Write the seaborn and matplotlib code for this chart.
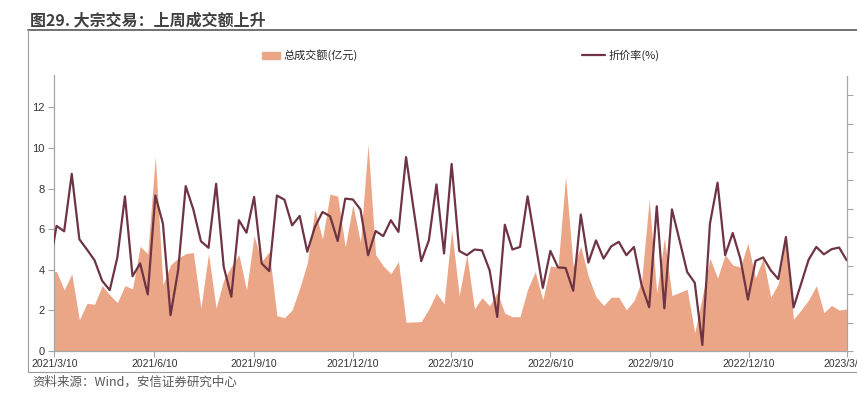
import pandas as pd
import matplotlib
matplotlib.use("Agg")
import matplotlib.pyplot as plt
from matplotlib.lines import Line2D
from matplotlib.patches import Patch
import seaborn as sns

# weekly data (Fridays); first point lies just left of the axis start and gets clipped
dates = pd.date_range("2021-03-05", periods=106, freq="7D")

# 总成交额(亿元), left axis
amount = [3.90, 3.91, 3.01, 3.80, 1.53, 2.35, 2.30, 3.22, 2.76, 2.38, 3.22, 3.06, 5.15, 4.79,
          9.59, 3.26, 4.24, 4.57, 4.79, 4.85, 2.11, 4.79, 2.11, 3.50, 4.16, 4.74, 3.01,
          5.67, 4.41, 4.90, 1.74, 1.64, 2.02, 3.09, 4.33, 6.96, 5.51, 7.73, 7.62, 5.12,
          7.20, 5.35, 10.16, 4.74, 4.19, 3.80, 4.41, 1.41, 1.43, 1.45, 2.07, 2.85, 2.32,
          5.97, 2.73, 4.74, 2.07, 2.63, 2.22, 2.89, 1.86, 1.69, 1.69, 3.04, 3.91, 2.52,
          4.19, 4.13, 8.60, 4.16, 5.15, 3.67, 2.68, 2.24, 2.65, 2.65, 2.02, 2.48, 3.42, 7.45,
          2.85, 5.56, 2.73, 2.88, 3.04, 0.90, 2.68, 4.57, 3.59, 4.74, 4.24, 4.13, 5.31,
          3.59, 4.57, 2.65, 3.31, 5.56, 1.56, 2.02, 2.52, 3.21, 1.89, 2.24, 2.02, 2.07]

# 折价率(%), right axis
discount = [2.90, 4.40, 4.21, 6.23, 3.93, 3.57, 3.19, 2.47, 2.14, 3.29, 5.44, 2.63, 3.08, 1.99,
            5.47, 4.48, 1.26, 2.84, 5.80, 4.98, 3.86, 3.63, 5.88, 2.96, 1.91, 4.60, 4.16,
            5.42, 3.08, 2.81, 5.47, 5.32, 4.42, 4.75, 3.49, 4.36, 4.89, 4.74, 3.87, 5.36,
            5.33, 4.98, 3.37, 4.22, 4.04, 4.60, 4.19, 6.82, 4.98, 3.16, 3.89, 5.86, 3.43,
            6.58, 3.52, 3.37, 3.57, 3.54, 2.84, 1.20, 4.44, 3.57, 3.66, 5.44, 3.84, 2.22,
            3.52, 2.94, 2.92, 2.12, 4.80, 3.11, 3.89, 3.25, 3.68, 3.84, 3.37, 3.66, 2.32, 1.54,
            5.09, 1.50, 4.98, 3.89, 2.78, 2.40, 0.21, 4.48, 5.92, 3.37, 4.15, 3.25, 1.81,
            3.17, 3.29, 2.84, 2.53, 4.01, 1.53, 2.37, 3.22, 3.66, 3.40, 3.58, 3.64, 3.19]

tick_dates = ["2021-03-10", "2021-06-10", "2021-09-10", "2021-12-10", "2022-03-10",
              "2022-06-10", "2022-09-10", "2022-12-10", "2023-03-10"]
tick_labels = ["2021/3/10", "2021/6/10", "2021/9/10", "2021/12/10", "2022/3/10",
               "2022/6/10", "2022/9/10", "2022/12/10", "2023/3/10"]

df = pd.DataFrame({"date": dates, "amount": amount, "discount": discount})

area_color = "#EBA687"
line_color = "#6F3444"
axis_color = "#A6A6A6"

sns.set_theme(style="white")
plt.rcParams["font.family"] = ["Noto Sans CJK SC", "DejaVu Sans"]

W, H = 857, 399
fig = plt.figure(figsize=(W / 100, H / 100), dpi=100)
ax = fig.add_axes([54.4 / W, 1 - 351 / H, (846.7 - 54.4) / W, (351 - 66.7) / H])

ax.fill_between(df["date"], df["amount"], color=area_color, lw=0)
ax.set_xlim(pd.Timestamp("2021-03-10"), pd.Timestamp("2023-03-10"))
ax.set_ylim(0, 14)
ax.set_yticks(range(0, 13, 2))
ax.set_xticks(pd.to_datetime(tick_dates))
ax.set_xticklabels(tick_labels, fontsize=7.5, color="#333333",
                   family=["Liberation Sans Narrow", "Liberation Sans"])
ax.set_xlabel("")
ax.set_ylabel("")
ax.tick_params(axis="y", left=True, length=4, width=0.8, color=axis_color,
               labelsize=8, labelcolor="#333333", pad=3)
ax.tick_params(axis="x", bottom=True, length=4, width=0.8, color=axis_color, pad=2)
for lbl in ax.get_yticklabels():
    lbl.set_family(["Liberation Sans", "DejaVu Sans"])
for s in ["top", "right"]:
    ax.spines[s].set_visible(False)
for s in ["left", "bottom"]:
    ax.spines[s].set_color(axis_color)
    ax.spines[s].set_linewidth(0.9)
ax.spines["left"].set_bounds(0, 13.6)

ax2 = ax.twinx()
sns.lineplot(data=df, x="date", y="discount", ax=ax2, color=line_color, lw=1.6)
ax2.set_xlim(pd.Timestamp("2021-03-10"), pd.Timestamp("2023-03-10"))
ax2.set_ylim(0, 10)
ax2.set_yticks(range(0, 10))
ax2.set_yticklabels([])
ax2.set_ylabel("")
ax2.set_xlabel("")
ax2.tick_params(axis="y", right=True, length=4, width=0.8, color=axis_color)
for s in ["top", "left", "bottom"]:
    ax2.spines[s].set_visible(False)
ax2.spines["right"].set_color(axis_color)
ax2.spines["right"].set_linewidth(0.9)
ax2.spines["right"].set_bounds(0, 9.68)

# legend entries, placed like the original (two separate groups)
leg_kw = dict(frameon=False, borderpad=0, borderaxespad=0, fontsize=8,
              handletextpad=0.3, loc="center left")
fig.legend([Patch(color=area_color)], ["总成交额(亿元)"],
           bbox_to_anchor=(262 / W, 1 - 55.5 / H), handlelength=1.6,
           handleheight=0.55, **leg_kw)
fig.legend([Line2D([0], [0], color=line_color, lw=1.6)], ["折价率(%)"],
           bbox_to_anchor=(582 / W, 1 - 55.5 / H), handlelength=2.1, **leg_kw)

# title, frame and source note
fig.text(30 / W, 1 - 20 / H, "图29. 大宗交易：上周成交额上升", fontsize=11.5,
         fontweight="bold", color="#404040", va="center")
fig.add_artist(Line2D([28 / W, 1], [1 - 30 / H] * 2, color="#666666", lw=1.3))
fig.add_artist(Line2D([28 / W] * 2, [1 - 30 / H, 1 - 372 / H], color="#9A9A9A", lw=0.8))
fig.add_artist(Line2D([28 / W, 1], [1 - 372 / H] * 2, color="#9A9A9A", lw=0.8))
fig.text(32 / W, 1 - 382 / H, "资料来源：Wind，安信证券研究中心", fontsize=9,
         color="#595959", style="italic", va="center")

fig.savefig("out.png", dpi=100)
